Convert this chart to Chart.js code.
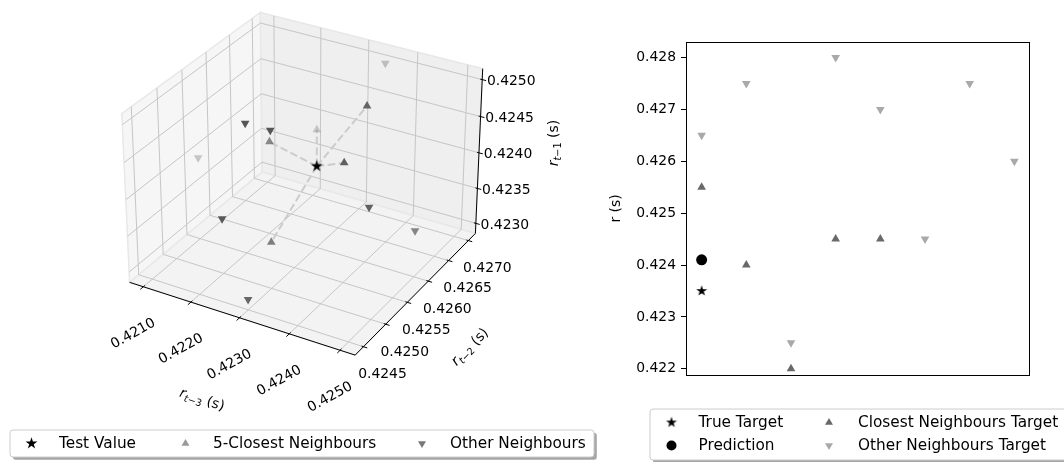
<!DOCTYPE html>
<html lang="en">
<head>
<meta charset="UTF-8">
<title>Nearest neighbours</title>
<script src="https://cdn.jsdelivr.net/npm/chart.js"></script>
<style>
  body { margin: 0; background: #fff; width: 1064px; height: 462px; overflow: hidden; position: relative; }
  .panel { position: absolute; top: 0; height: 462px; }
  #left { left: 0; width: 640px; }
  #right { left: 600px; width: 464px; }
</style>
</head>
<body>
<div class="panel" id="left"><canvas id="chart3d"></canvas></div>
<div class="panel" id="right"><canvas id="chartTarget"></canvas></div>
<script>
const FONT = 'DejaVu Sans';
Chart.defaults.font.family = FONT;

// ---- 3D panel: (r_{t-3}, r_{t-2}, r_{t-1}) ----
const r3Ticks = [0.4210, 0.4220, 0.4230, 0.4240, 0.4250];
const r2Ticks = [0.4245, 0.4250, 0.4255, 0.4260, 0.4265, 0.4270];
const r1Ticks = [0.4230, 0.4235, 0.4240, 0.4245, 0.4250];
const r3Lim = [0.420708, 0.425292];
const r2Lim = [0.424318, 0.427182];
const r1Lim = [0.422854, 0.425146];

const testR3 = [0.4230];
const testR2 = [0.4260];
const testR1 = [0.4240];

const closeR3 = [0.4225, 0.4230, 0.4240, 0.4240, 0.4230];
const closeR2 = [0.4255, 0.4260, 0.4255, 0.4260, 0.4250];
const closeR1 = [0.4245, 0.4245, 0.4245, 0.4250, 0.4235];

const otherR3 = [0.4235, 0.4225, 0.4230, 0.4210, 0.4245, 0.4225, 0.4250, 0.4230];
const otherR2 = [0.4270, 0.4250, 0.4250, 0.4255, 0.4255, 0.4245, 0.4260, 0.4245];
const otherR1 = [0.4250, 0.4250, 0.4250, 0.4240, 0.4240, 0.4240, 0.4235, 0.4230];

// ---- right panel: targets ----
const trueTarget = [0.4235];
const prediction = [0.4241];
const closeTarget = [0.4255, 0.4240, 0.4220, 0.4245, 0.4245];
const otherTarget = [0.4265, 0.4275, 0.4225, 0.4280, 0.4270, 0.4245, 0.4275, 0.4260];
const targetTicks = [0.422, 0.423, 0.424, 0.425, 0.426, 0.427, 0.428];

// perspective projection like matplotlib (elev 30, azim -60, focal length 1)
const elev = 30 * Math.PI / 180, azim = -60 * Math.PI / 180;
const half = [0.5714, 0.5714, 0.4286];
const wv = [Math.cos(elev) * Math.cos(azim), Math.cos(elev) * Math.sin(azim), Math.sin(elev)];
const un = Math.hypot(wv[0], wv[1]);
const uv = [-wv[1] / un, wv[0] / un, 0];
const vv = [-wv[2] * uv[1], wv[2] * uv[0], wv[0] * uv[1] - wv[1] * uv[0]];

function project(x, y, z) {
  const q = [
    half[0] * (2 * (x - r3Lim[0]) / (r3Lim[1] - r3Lim[0]) - 1),
    half[1] * (2 * (y - r2Lim[0]) / (r2Lim[1] - r2Lim[0]) - 1),
    half[2] * (2 * (z - r1Lim[0]) / (r1Lim[1] - r1Lim[0]) - 1)
  ];
  const dot = a => a[0] * q[0] + a[1] * q[1] + a[2] * q[2];
  const d = 10 - dot(wv);
  return { x: dot(uv) / d, y: dot(vv) / d, depth: dot(wv) };
}

const testPts = testR3.map((v, i) => project(v, testR2[i], testR1[i]));
const closePts = closeR3.map((v, i) => project(v, closeR2[i], closeR1[i]));
const otherPts = otherR3.map((v, i) => project(v, otherR2[i], otherR1[i]));

// depth shading: farther points get lighter
function shade(base, pts) {
  const d = pts.map(p => p.depth);
  const hi = Math.max(...d), lo = Math.min(...d);
  return d.map(v => {
    const n = (hi - v) / (hi - lo);
    const a = 1 - 0.7 * n * n;
    return `rgba(${base},${base},${base},${a.toFixed(3)})`;
  });
}

function starImage(radius, color) {
  const size = Math.ceil(radius * 2) + 2;
  const c = document.createElement('canvas');
  c.width = c.height = size;
  const g = c.getContext('2d');
  g.fillStyle = color;
  g.beginPath();
  for (let i = 0; i < 10; i++) {
    const r = i % 2 ? radius * 0.381966 : radius;
    const a = -Math.PI / 2 + i * Math.PI / 5;
    const px = size / 2 + r * Math.cos(a), py = size / 2 + r * Math.sin(a);
    i ? g.lineTo(px, py) : g.moveTo(px, py);
  }
  g.closePath();
  g.fill();
  return c;
}

function roundRect(ctx, x, y, w, h, r) {
  ctx.beginPath();
  ctx.moveTo(x + r, y);
  ctx.arcTo(x + w, y, x + w, y + h, r);
  ctx.arcTo(x + w, y + h, x, y + h, r);
  ctx.arcTo(x, y + h, x, y, r);
  ctx.arcTo(x, y, x + w, y, r);
  ctx.closePath();
}

// legend box in matplotlib style (fancybox + shadow)
function drawLegend(ctx, box, items) {
  ctx.save();
  roundRect(ctx, box.left + 2.8, box.top + 2.8, box.width, box.height, 3);
  ctx.fillStyle = 'rgba(77,77,77,0.5)';
  ctx.fill();
  roundRect(ctx, box.left, box.top, box.width, box.height, 3);
  ctx.fillStyle = '#fff';
  ctx.fill();
  ctx.strokeStyle = '#cccccc';
  ctx.lineWidth = 1;
  ctx.stroke();
  ctx.font = '15.3px ' + FONT;
  ctx.textBaseline = 'middle';
  ctx.textAlign = 'left';
  items.forEach(it => {
    if (it.image) {
      ctx.drawImage(it.image, it.mx - it.image.width / 2, it.my - it.image.height / 2);
    } else {
      ctx.fillStyle = it.color;
      Chart.helpers.drawPoint(ctx, { pointStyle: it.style, radius: it.radius, rotation: it.rotation || 0, borderWidth: 0 }, it.mx, it.my);
    }
    ctx.fillStyle = '#000';
    ctx.fillText(it.text, it.tx, it.my + 1);
  });
  ctx.restore();
}

// mathtext-like label r_{t-n} (s)
function mathLabel(ctx, cx, cy, angle, sub) {
  const big = '13.9px ' + FONT, small = '9.7px ' + FONT;
  const parts = [
    { t: 'r', f: 'italic ' + big, dy: 0 },
    { t: 't', f: 'italic ' + small, dy: 3 },
    { t: '\u2212' + sub, f: small, dy: 3 },
    { t: ' (s)', f: big, dy: 0 }
  ];
  let w = 0;
  parts.forEach(p => { ctx.font = p.f; p.w = ctx.measureText(p.t).width; w += p.w; });
  ctx.save();
  ctx.translate(cx, cy);
  ctx.rotate(angle);
  ctx.fillStyle = '#000';
  ctx.textAlign = 'left';
  ctx.textBaseline = 'alphabetic';
  let x = -w / 2;
  parts.forEach(p => { ctx.font = p.f; ctx.fillText(p.t, x, 5 + p.dy); x += p.w; });
  ctx.restore();
}

const starTest = starImage(6.2, '#000');
const starTrue = starImage(5.7, '#000');

const axes3d = {
  id: 'axes3d',
  beforeDatasetsDraw(chart) {
    const ctx = chart.ctx;
    const P = (x, y, z) => {
      const p = project(x, y, z);
      return [chart.scales.x.getPixelForValue(p.x), chart.scales.y.getPixelForValue(p.y)];
    };
    const [x0, x1] = r3Lim, [y0, y1] = r2Lim, [z0, z1] = r1Lim;
    ctx.save();

    const pane = (pts, fill) => {
      ctx.beginPath();
      pts.forEach((p, i) => { const [a, b] = P(...p); i ? ctx.lineTo(a, b) : ctx.moveTo(a, b); });
      ctx.closePath();
      ctx.fillStyle = fill;
      ctx.fill();
      ctx.strokeStyle = '#e8e8e8';
      ctx.lineWidth = 1.5;
      ctx.stroke();
    };
    pane([[x0, y0, z0], [x0, y1, z0], [x0, y1, z1], [x0, y0, z1]], '#f6f6f6');
    pane([[x0, y1, z0], [x1, y1, z0], [x1, y1, z1], [x0, y1, z1]], '#efefef');
    pane([[x0, y0, z0], [x1, y0, z0], [x1, y1, z0], [x0, y1, z0]], '#f3f3f3');

    const line = (pts, color, width) => {
      ctx.beginPath();
      pts.forEach((p, i) => { const [a, b] = P(...p); i ? ctx.lineTo(a, b) : ctx.moveTo(a, b); });
      ctx.strokeStyle = color;
      ctx.lineWidth = width;
      ctx.stroke();
    };
    const gridColor = '#c6c6c6';
    r3Ticks.forEach(t => line([[t, y0, z0], [t, y1, z0], [t, y1, z1]], gridColor, 1));
    r2Ticks.forEach(t => line([[x1, t, z0], [x0, t, z0], [x0, t, z1]], gridColor, 1));
    r1Ticks.forEach(t => line([[x0, y0, t], [x0, y1, t], [x1, y1, t]], gridColor, 1));

    line([[x0, y0, z0], [x1, y0, z0]], '#000', 1);
    line([[x1, y0, z0], [x1, y1, z0]], '#000', 1);
    line([[x1, y1, z0], [x1, y1, z1]], '#000', 1);

    // tick marks, returns tick screen point
    const tick = (base, dir) => {
      const a = P(...base);
      const b = P(base[0] + dir[0], base[1] + dir[1], base[2] + dir[2]);
      const len = Math.hypot(b[0] - a[0], b[1] - a[1]);
      const ux = (b[0] - a[0]) / len, uy = (b[1] - a[1]) / len;
      ctx.beginPath();
      ctx.moveTo(a[0] - 2 * ux, a[1] - 2 * uy);
      ctx.lineTo(a[0] + 4 * ux, a[1] + 4 * uy);
      ctx.strokeStyle = '#000';
      ctx.lineWidth = 1;
      ctx.stroke();
      return a;
    };

    ctx.fillStyle = '#000';
    ctx.font = '13.9px ' + FONT;
    ctx.textAlign = 'center';
    ctx.textBaseline = 'middle';
    r3Ticks.forEach(t => {
      const a = tick([t, y0, z0], [0, -1e-5, 0]);
      ctx.save();
      ctx.translate(a[0] - 10, a[1] + 47);
      ctx.rotate(-29 * Math.PI / 180);
      ctx.fillText(t.toFixed(4), 0, 0);
      ctx.restore();
    });
    r2Ticks.forEach(t => {
      const a = tick([x1, t, z0], [1e-5, 0, 0]);
      ctx.fillText(t.toFixed(4), a[0] + 19, a[1] + 28);
    });
    r1Ticks.forEach(t => {
      const a = tick([x1, y1, t], [1e-5, 0, 0]);
      ctx.fillText(t.toFixed(4), a[0] + 29, a[1] + 2);
    });

    // axis labels, aligned with projected axes
    const A = P(x0, y0, z0), B = P(x1, y0, z0), C = P(x1, y1, z0), D = P(x1, y1, z1);
    mathLabel(ctx, (A[0] + B[0]) / 2 - 40, (A[1] + B[1]) / 2 + 80, Math.atan2(B[1] - A[1], B[0] - A[0]), '3');
    mathLabel(ctx, (B[0] + C[0]) / 2 + 54, (B[1] + C[1]) / 2 + 52, Math.atan2(C[1] - B[1], C[0] - B[0]), '2');
    mathLabel(ctx, (C[0] + D[0]) / 2 + 74, (C[1] + D[1]) / 2 - 8, -Math.PI / 2, '1');
    ctx.restore();
  },
  afterDraw(chart) {
    const ds = chart.data.datasets;
    drawLegend(chart.ctx, { left: 10, top: 430, width: 584, height: 27 }, [
      { image: starTest, mx: 31.5, my: 443.5, tx: 59, text: ds[0].label },
      { style: 'triangle', radius: 4.6, color: '#9a9a9a', mx: 185.5, my: 443.5, tx: 213, text: ds[1].label },
      { style: 'triangle', radius: 4.6, rotation: 180, color: '#777777', mx: 422, my: 443.5, tx: 450, text: ds[2].label }
    ]);
  }
};

const linkSets = closePts.map(p => ({
  label: '',
  data: [testPts[0], p],
  showLine: true,
  borderColor: '#cccccc',
  borderWidth: 2,
  borderDash: [7.7, 3.3],
  pointRadius: 0
}));

new Chart(document.getElementById('chart3d'), {
  type: 'scatter',
  data: {
    datasets: [
      { label: 'Test Value', data: testPts, pointStyle: starTest, pointRadius: 6, pointBorderWidth: 0 },
      { label: '5-Closest Neighbours', data: closePts, pointStyle: 'triangle', pointRadius: 5,
        pointBackgroundColor: shade(95, closePts), pointBorderWidth: 0 },
      { label: 'Other Neighbours', data: otherPts, pointStyle: 'triangle', pointRotation: 180, pointRadius: 5,
        pointBackgroundColor: shade(85, otherPts), pointBorderWidth: 0 },
      ...linkSets
    ]
  },
  options: {
    responsive: true,
    maintainAspectRatio: false,
    animation: false,
    events: [],
    layout: { padding: 0 },
    plugins: { legend: { display: false }, tooltip: { enabled: false } },
    scales: {
      x: { type: 'linear', display: false, min: -0.13245, max: 0.14521 },
      y: { type: 'linear', display: false, min: -0.12477, max: 0.07566 }
    }
  },
  plugins: [axes3d]
});

// ---- right panel ----
const frameAndLegend = {
  id: 'frameAndLegend',
  afterDatasetsDraw(chart) {
    const { ctx, chartArea: a } = chart;
    ctx.save();
    ctx.strokeStyle = '#000';
    ctx.lineWidth = 1;
    ctx.strokeRect(Math.round(a.left) + 0.5, Math.round(a.top) + 0.5, Math.round(a.right - a.left) - 1, Math.round(a.bottom - a.top));
    ctx.restore();
  },
  afterDraw(chart) {
    const ds = chart.data.datasets;
    drawLegend(chart.ctx, { left: 50, top: 409, width: 420, height: 51 }, [
      { image: starTrue, mx: 71.5, my: 422.5, tx: 98.5, text: ds[0].label },
      { style: 'circle', radius: 5, color: '#000', mx: 71.5, my: 445.5, tx: 98.5, text: ds[1].label },
      { style: 'triangle', radius: 4.6, color: '#696969', mx: 229, my: 422.5, tx: 258, text: ds[2].label },
      { style: 'triangle', radius: 4.6, rotation: 180, color: '#a9a9a9', mx: 229, my: 445.5, tx: 258, text: ds[3].label }
    ]);
  }
};

new Chart(document.getElementById('chartTarget'), {
  type: 'scatter',
  data: {
    datasets: [
      { label: 'True Target', data: trueTarget.map((v, i) => ({ x: i, y: v })),
        pointStyle: starTrue, pointRadius: 6, pointBorderWidth: 0 },
      { label: 'Prediction', data: prediction.map((v, i) => ({ x: i, y: v })),
        pointStyle: 'circle', pointRadius: 5.5, pointBackgroundColor: '#000', pointBorderWidth: 0 },
      { label: 'Closest Neighbours Target', data: closeTarget.map((v, i) => ({ x: i, y: v })),
        pointStyle: 'triangle', pointRadius: 5, pointBackgroundColor: '#696969', pointBorderWidth: 0 },
      { label: 'Other Neighbours Target', data: otherTarget.map((v, i) => ({ x: i, y: v })),
        pointStyle: 'triangle', pointRotation: 180, pointRadius: 5, pointBackgroundColor: '#a9a9a9', pointBorderWidth: 0 }
    ]
  },
  options: {
    responsive: true,
    maintainAspectRatio: false,
    animation: false,
    events: [],
    layout: { padding: { left: 0, top: 42, right: 34, bottom: 87 } },
    plugins: { legend: { display: false }, tooltip: { enabled: false } },
    scales: {
      x: { type: 'linear', display: false, min: -0.35, max: 7.35 },
      y: {
        type: 'linear',
        min: 0.42188,
        max: 0.4283,
        afterBuildTicks: s => { s.ticks = targetTicks.map(v => ({ value: v })); },
        afterFit: s => { s.width = 86; },
        ticks: { color: '#000', font: { size: 13.9 }, padding: 5, callback: v => v.toFixed(3) },
        grid: { drawOnChartArea: false, drawTicks: true, tickLength: 5, color: '#000', lineWidth: 1 },
        border: { display: false },
        title: { display: true, text: 'r (s)', color: '#000', font: { size: 13.9 }, padding: { top: 8, bottom: 0 } }
      }
    }
  },
  plugins: [frameAndLegend]
});
</script>
</body>
</html>
